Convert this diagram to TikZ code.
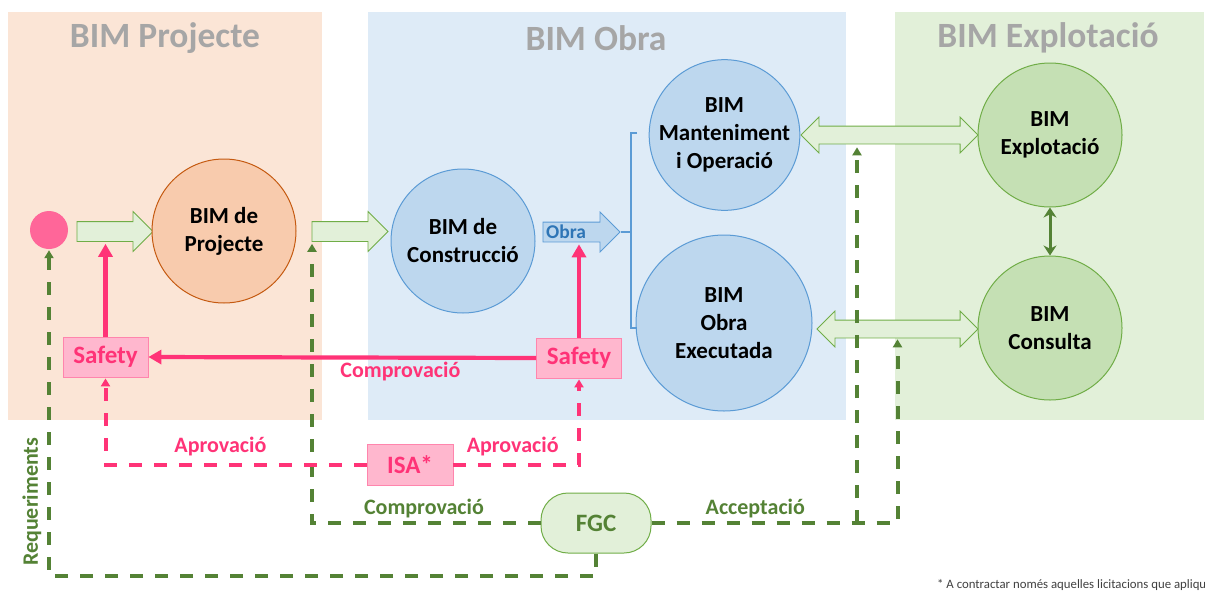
\documentclass[tikz,border=0pt]{standalone}
\usepackage{fontspec}
\setmainfont{Carlito}
\usetikzlibrary{shapes.arrows,arrows.meta}
\definecolor{peach}{HTML}{FBE5D6}
\definecolor{paleblue}{HTML}{DEEBF7}
\definecolor{palegreen}{HTML}{E2F0D9}
\definecolor{orangefill}{HTML}{F8CBAD}
\definecolor{orangeline}{HTML}{C55A11}
\definecolor{bluefill}{HTML}{BDD7EE}
\definecolor{blueline}{HTML}{5B9BD5}
\definecolor{bluetext}{HTML}{2E75B6}
\definecolor{greenfill}{HTML}{C5E0B4}
\definecolor{greenline}{HTML}{70AD47}
\definecolor{darkgreen}{HTML}{548235}
\definecolor{hotpink}{HTML}{FF3377}
\definecolor{pinkfill}{HTML}{FFB7CE}
\definecolor{pinkline}{HTML}{FF85AD}
\definecolor{pinkdot}{HTML}{FF6699}
\definecolor{titlegray}{HTML}{A6A6A6}
\definecolor{footgray}{HTML}{404040}
\newcommand{\bimfont}{\fontsize{23}{28}\selectfont\bfseries}
\newcommand{\labelfont}{\fontsize{22}{26}\selectfont\bfseries}

\begin{document}
\begin{tikzpicture}[x=1pt, y=-1pt,
    titletext/.style={text=titlegray, font=\fontsize{35.5}{40}\selectfont\bfseries},
    bimnode/.style={circle, inner sep=0, minimum size=144, line width=1pt, align=center, font=\bimfont},
    projnode/.style={bimnode, fill=orangefill, draw=orangeline},
    obranode/.style={bimnode, fill=bluefill, draw=blueline},
    explnode/.style={bimnode, fill=greenfill, draw=greenline},
    flowarrow/.style={single arrow, draw=greenline, fill=palegreen, line width=0.8pt, inner sep=0, inner ysep=9.5, single arrow head extend=10, minimum height=76, minimum width=0},
    linkarrow/.style={double arrow, draw=greenline, fill=palegreen, line width=0.8pt, inner sep=0, inner ysep=8.5, double arrow head extend=9, minimum width=0},
    safetybox/.style={rectangle, draw=pinkline, fill=pinkfill, line width=0.8pt, minimum width=85, minimum height=40, text=hotpink, font=\fontsize{25}{28}\selectfont\bfseries},
    pinkflow/.style={draw=hotpink, line width=4.2pt, -{Triangle[length=13pt,width=14pt]}},
    pinkdash/.style={draw=hotpink, line width=4pt, dash pattern=on 13pt off 12pt, -{Triangle[length=8pt,width=9pt]}},
    greendash/.style={draw=darkgreen, line width=4pt, dash pattern=on 13pt off 12pt, -{Triangle[length=8pt,width=9pt]}},
    pinklabel/.style={text=hotpink, font=\labelfont, inner sep=1pt},
    greenlabel/.style={text=darkgreen, font=\labelfont, inner sep=1pt}]
  \useasboundingbox (0,0) rectangle (1205,592);
  % fases
  \fill[peach] (8,12) rectangle (322,420);
  \fill[paleblue] (368,12) rectangle (846,420);
  \fill[palegreen] (895,12) rectangle (1204,420);
  \node[titletext] (tProj) at (165,38) {BIM Projecte};
  \node[titletext] (tObra) at (596,38) {BIM Obra};
  \node[titletext] (tExpl) at (1048,38) {BIM Explotació};

  % models
  \node[circle, fill=pinkdot, inner sep=0, minimum size=38] (dot) at (49,230) {};
  \node[flowarrow] (arrProj) at (110,231.5) {};
  \node[projnode] (projecte) at (224,231) {BIM de\\Projecte};
  \node[flowarrow] (arrObra) at (345,231.5) {};
  \node[obranode] (construccio) at (463,241) {BIM de\\Construcció};
  \node[single arrow, draw=blueline, fill=bluefill, line width=0.8pt, inner sep=0, inner ysep=9.5, single arrow head extend=10, minimum height=77, minimum width=0] (obraArr) at (576.5,232) {};
  \node[text=bluetext, font=\fontsize{19.5}{22}\selectfont\bfseries, inner sep=0] (obraText) at (566,232) {Obra};
  \node[obranode] (manteniment) at (724.5,135) {BIM\\Manteniment\\i Operació};
  \node[obranode, minimum size=176] (executada) at (724,323) {BIM\\Obra\\Executada};
  \node[linkarrow, minimum height=177] (dblTop) at (889.5,135) {};
  \node[linkarrow, minimum height=161] (dblBot) at (897.5,329) {};
  \node[explnode] (explotacio) at (1050,135) {BIM\\Explotació};
  \node[explnode] (consulta) at (1050,328) {BIM\\Consulta};

  % agents
  \node[safetybox] (safetyL) at (105.5,357) {Safety};
  \node[safetybox] (safetyR) at (579,358) {Safety};
  \node[safetybox, minimum width=86, minimum height=41] (isa) at (410,465) {ISA*};
  \node[rectangle, rounded corners=27pt, draw=greenline, fill=palegreen, line width=1pt, minimum width=110, minimum height=60, text=darkgreen, font=\fontsize{25}{30}\selectfont\bfseries] (fgc) at (596,523) {FGC};

  \coordinate (brTop) at (631,133);
  \coordinate (brBot) at (631,328);
  \coordinate (chkTip) at ([xshift=-33pt]arrObra.south);
  \coordinate (accFork) at (857,523);

  \draw[blueline, line width=1.5pt] (obraArr.tip) -- (obraArr.tip -| brTop);
  \draw[blueline, line width=1.5pt] ([xshift=6pt]brTop) -- (brTop) -- (brBot) -- ([xshift=6pt]brBot);
  \draw[darkgreen, line width=3pt, {Stealth[length=10pt,width=13pt]}-{Stealth[length=10pt,width=13pt]}] (explotacio) -- (consulta);

  % fluxos FGC
  \draw[greendash, shorten >=2pt] (fgc.west) -| node[greenlabel, pos=0.255, yshift=14pt] {Comprovació} (chkTip);
  \draw[greendash, shorten >=1pt] (fgc.east) -| node[greenlabel, pos=0.211, yshift=14pt] {Acceptació} (dblBot.south);
  \draw[greendash, shorten >=3pt] (accFork) -- (accFork |- dblTop.south);
  \draw[greendash, shorten >=1pt] (fgc.south) -- ++(0,22) -| node[greenlabel, pos=0.613, rotate=90, yshift=17pt] {Requeriments} (dot.south);

  % fluxos seguretat
  \draw[pinkdash, shorten >=1pt] (isa.west) -| node[pinklabel, pos=0.28, yshift=18pt] {Aprovació} (safetyL.south);
  \draw[pinkdash, shorten >=1pt] (isa.east) -| node[pinklabel, pos=0.236, yshift=18pt] {Aprovació} (safetyR.south);
  \draw[pinkflow] (safetyR.west) -- node[pinklabel, pos=0.35, yshift=-14pt] {Comprovació} (safetyL.east);
  \draw[pinkflow, shorten >=2pt] (safetyL.north) -- (safetyL.north |- arrProj.south);
  \draw[pinkflow, shorten >=2pt] (safetyR.north) -- (safetyR.north |- obraArr.south);

  \node[anchor=west, text=footgray, font=\fontsize{12.8}{15}\selectfont, inner sep=0] (nota) at (937,585) {* A contractar només aquelles licitacions que apliqu};
\end{tikzpicture}
\end{document}
